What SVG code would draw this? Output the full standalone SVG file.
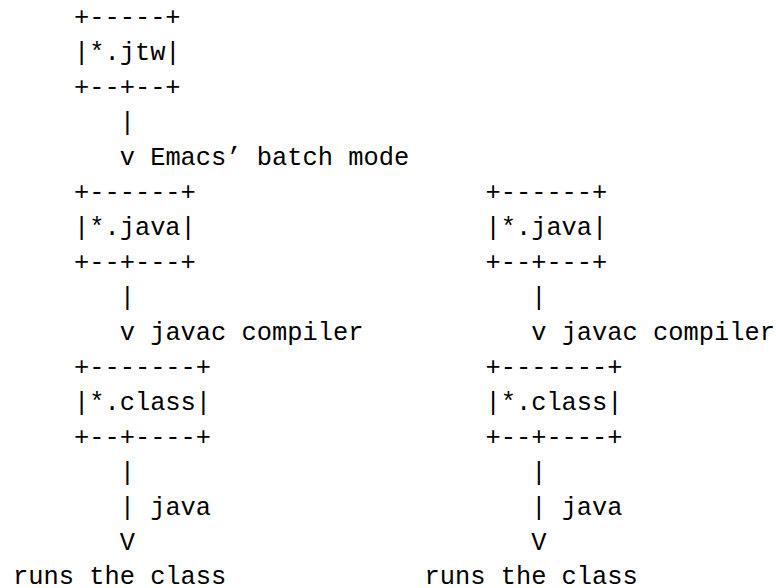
<svg xmlns="http://www.w3.org/2000/svg" width="776" height="588" viewBox="0 0 776 588">
<style>
text { font-family: "Liberation Mono", "Courier New", monospace; font-size: 25.4px; fill: #000; white-space: pre; }
</style>
<rect width="776" height="588" fill="#fff"/>
<g id="node-jtw">
<text x="73.96" y="24.5">+-----+</text>
<text x="73.96" y="59.5">|*.jtw|</text>
<text x="73.96" y="94.5">+--+--+</text>
</g>
<g id="node-java-left">
<text x="73.96" y="199.5">+------+</text>
<text x="73.96" y="234.5">|*.java|</text>
<text x="73.96" y="269.5">+--+---+</text>
</g>
<g id="node-java-right">
<text x="485.44" y="199.5">+------+</text>
<text x="485.44" y="234.5">|*.java|</text>
<text x="485.44" y="269.5">+--+---+</text>
</g>
<g id="node-class-left">
<text x="73.96" y="374.5">+-------+</text>
<text x="73.96" y="409.5">|*.class|</text>
<text x="73.96" y="444.5">+--+----+</text>
</g>
<g id="node-class-right">
<text x="485.44" y="374.5">+-------+</text>
<text x="485.44" y="409.5">|*.class|</text>
<text x="485.44" y="444.5">+--+----+</text>
</g>
<g id="node-run-left">
<text x="13" y="584">runs the class</text>
</g>
<g id="node-run-right">
<text x="424.48" y="584">runs the class</text>
</g>
<g id="connectors">
<text x="119.68" y="129.5">|</text>
<text x="119.68" y="164.5">v Emacs’ batch mode</text>
<text x="119.68" y="304.5">|</text>
<text x="119.68" y="339.5">v javac compiler</text>
<text x="531.16" y="304.5">|</text>
<text x="531.16" y="339.5">v javac compiler</text>
<text x="119.68" y="479.5">|</text>
<text x="119.68" y="514.5">| java</text>
<text x="119.68" y="549.5">V</text>
<text x="531.16" y="479.5">|</text>
<text x="531.16" y="514.5">| java</text>
<text x="531.16" y="549.5">V</text>
</g>
</svg>
